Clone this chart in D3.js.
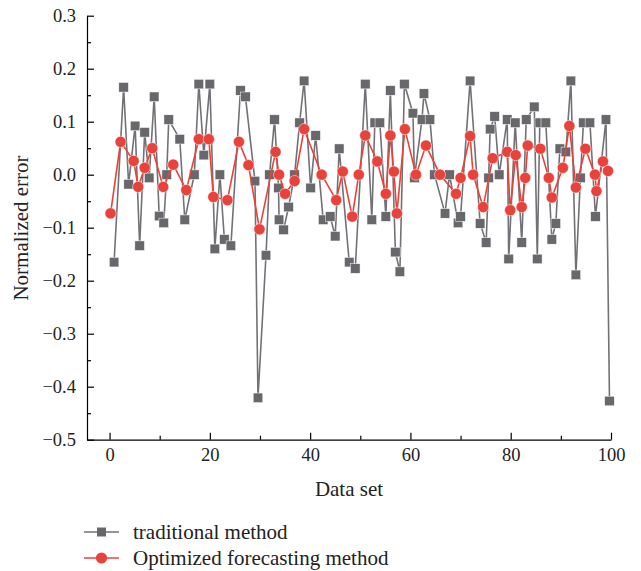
<!DOCTYPE html>
<html>
<head>
<meta charset="utf-8">
<script src="https://cdn.jsdelivr.net/npm/d3@7"></script>
<style>
  body { margin: 0; background: #fff; }
  svg { display: block; font-family: "Liberation Serif", "DejaVu Serif", serif; }
</style>
</head>
<body>
<svg id="chart" width="641" height="571"></svg>
<script>
// traditional method (x = data set index, y = normalized error)
const tradX = [0.9, 2.8, 3.8, 5.1, 6.0, 7.0, 7.9, 8.9, 9.9, 10.8, 11.4, 11.8, 14.0, 15.0, 16.9, 17.8, 18.8, 20.0, 21.0, 22.0,
  22.9, 24.2, 26.1, 27.1, 29.0, 29.6, 31.2, 31.9, 32.9, 33.7, 33.8, 34.7, 35.7, 36.9, 37.9, 38.8, 40.1, 41.1, 42.6, 44.0,
  45.0, 45.8, 47.8, 49.0, 51.0, 52.3, 52.9, 53.9, 55.1, 56.0, 57.0, 57.9, 58.8, 60.5, 60.8, 62.3, 62.7, 63.9, 64.8, 66.9,
  67.8, 69.5, 70.0, 71.9, 73.9, 75.1, 75.6, 75.9, 76.8, 77.7, 79.3, 79.6, 80.9, 82.2, 83.1, 84.7, 85.3, 85.8, 87.0, 88.2,
  89.0, 89.8, 91.0, 92.0, 93.0, 93.9, 94.5, 95.8, 96.9, 99.0, 99.7];
const tradY = [-0.165, 0.165, -0.018, 0.092, -0.134, 0.080, -0.006, 0.147, -0.078, -0.091, 0.000, 0.104, 0.067, -0.085, 0.000, 0.171, 0.037, 0.171, -0.140, 0.000,
  -0.122, -0.134, 0.159, 0.147, -0.012, -0.421, -0.152, 0.000, 0.104, -0.025, -0.085, -0.104, -0.061, 0.000, 0.098, 0.177, -0.025, 0.074, -0.085, -0.079,
  -0.116, 0.049, -0.165, -0.177, 0.171, -0.085, 0.098, 0.098, -0.079, 0.159, -0.146, -0.183, 0.171, 0.116, -0.006, 0.104, 0.153, 0.104, 0.000, -0.073,
  0.000, -0.091, -0.079, 0.177, -0.092, -0.128, -0.006, 0.086, 0.110, 0.000, 0.104, -0.159, 0.098, -0.128, 0.104, 0.128, -0.159, 0.098, 0.098, -0.122,
  -0.092, 0.049, 0.043, 0.177, -0.189, -0.006, 0.098, 0.098, -0.079, 0.104, -0.427];

// optimized forecasting method
const optX = [0.2, 2.2, 4.8, 5.7, 7.0, 8.5, 10.7, 12.7, 15.3, 17.8, 19.8, 20.7, 23.5, 25.8, 27.7, 29.9, 33.1, 33.8, 35.0, 36.9,
  38.8, 42.3, 45.2, 46.5, 48.4, 49.7, 51.0, 53.4, 55.1, 56.0, 56.7, 57.3, 58.9, 61.1, 63.1, 65.9, 69.1, 70.0, 71.9, 72.5,
  74.5, 76.4, 79.3, 79.9, 81.0, 82.2, 82.9, 83.4, 85.9, 87.6, 88.2, 90.4, 91.7, 93.0, 94.9, 96.8, 97.1, 98.4, 99.4];
const optY = [-0.073, 0.062, 0.026, -0.023, 0.013, 0.050, -0.023, 0.019, -0.029, 0.067, 0.067, -0.042, -0.048, 0.062, 0.018, -0.103, 0.043, 0.000, -0.036, -0.012,
  0.086, 0.000, -0.048, 0.006, -0.079, 0.000, 0.074, 0.025, -0.036, 0.074, 0.006, -0.073, 0.086, 0.000, 0.055, 0.000, -0.036, -0.006, 0.073, 0.000,
  -0.061, 0.031, 0.043, -0.067, 0.037, -0.061, -0.006, 0.055, 0.049, -0.006, -0.043, 0.013, 0.092, -0.024, 0.049, 0.000, -0.031, 0.025, 0.007];

const xTicks = [0, 20, 40, 60, 80, 100];
const yTicks = [0.3, 0.2, 0.1, 0.0, -0.1, -0.2, -0.3, -0.4, -0.5];
const seriesNames = ["traditional method", "Optimized forecasting method"];

const grey = "#68686c", red = "#e8423a";

const svg = d3.select("#chart");

const x = d3.scaleLinear().domain([-4.5, 100]).range([87, 611]);
const y = d3.scaleLinear().domain([-0.5, 0.3]).range([439.7, 15.7]);

// minor ticks
svg.append("g")
  .attr("transform", "translate(0,439.7)")
  .call(d3.axisBottom(x).tickValues([10, 30, 50, 70, 90]).tickSize(-4).tickSizeOuter(0).tickFormat(""))
  .call(g => g.select(".domain").remove())
  .selectAll("line").attr("stroke-width", 1.2);
svg.append("g")
  .attr("transform", "translate(87,0)")
  .call(d3.axisLeft(y).tickValues(d3.range(-0.45, 0.3, 0.1)).tickSize(-4).tickSizeOuter(0).tickFormat(""))
  .call(g => g.select(".domain").remove())
  .selectAll("line").attr("stroke-width", 1.2);

// X axis
const xAxis = svg.append("g")
  .attr("transform", "translate(0,439.7)")
  .call(d3.axisBottom(x).tickValues(xTicks).tickSize(-7).tickSizeOuter(0).tickPadding(8).tickFormat(d3.format("d")));
xAxis.select(".domain").attr("stroke-width", 1.2);
xAxis.selectAll("line").attr("stroke-width", 1.2);
xAxis.selectAll("text").attr("font-size", 18.5).attr("font-family", "Liberation Serif").attr("fill", "#222");

// Y axis
const yAxis = svg.append("g")
  .attr("transform", "translate(87,0)")
  .call(d3.axisLeft(y).tickValues(yTicks).tickSize(-7).tickSizeOuter(0).tickPadding(11).tickFormat(d3.format(".1f")));
yAxis.select(".domain").attr("stroke-width", 1.2);
yAxis.selectAll("line").attr("stroke-width", 1.2);
yAxis.selectAll("text").attr("font-size", 18.5).attr("font-family", "Liberation Serif").attr("fill", "#222");

// axis titles
svg.append("text")
  .attr("x", 349).attr("y", 496)
  .attr("text-anchor", "middle")
  .attr("font-size", 21).attr("fill", "#222")
  .text("Data set");
svg.append("text")
  .attr("transform", "translate(28,228) rotate(-90)")
  .attr("text-anchor", "middle")
  .attr("font-size", 21).attr("fill", "#222")
  .text("Normalized error");

const trad = tradX.map((d, i) => ({ x: d, y: tradY[i] }));
const opt = optX.map((d, i) => ({ x: d, y: optY[i] }));

const line = d3.line().x(d => x(d.x)).y(d => y(d.y));

// traditional method
svg.append("path")
  .datum(trad)
  .attr("d", line)
  .attr("fill", "none")
  .attr("stroke", "#727276")
  .attr("stroke-width", 1.6);
svg.selectAll(".sq")
  .data(trad)
  .enter()
  .append("rect")
  .attr("class", "sq")
  .attr("x", d => x(d.x) - 4.8)
  .attr("y", d => y(d.y) - 4.8)
  .attr("width", 9.6)
  .attr("height", 9.6)
  .attr("fill", grey)
  .attr("stroke", "#fff")
  .attr("stroke-width", 0.5);

// optimized forecasting method
svg.append("path")
  .datum(opt)
  .attr("d", line)
  .attr("fill", "none")
  .attr("stroke", red)
  .attr("stroke-width", 1.6);
svg.selectAll(".dot")
  .data(opt)
  .enter()
  .append("circle")
  .attr("class", "dot")
  .attr("cx", d => x(d.x))
  .attr("cy", d => y(d.y))
  .attr("r", 5.6)
  .attr("fill", red)
  .attr("stroke", "#fff")
  .attr("stroke-width", 0.5);

// legend
const legend = svg.append("g").attr("transform", "translate(84,532)");
seriesNames.forEach((name, i) => {
  const row = legend.append("g").attr("transform", `translate(0,${i * 26})`);
  const col = i === 0 ? "#727276" : red;
  row.append("line").attr("x1", 0).attr("x2", 35).attr("stroke", col).attr("stroke-width", 1.6);
  if (i === 0) {
    row.append("rect").attr("x", 13).attr("y", -4.5).attr("width", 9).attr("height", 9).attr("fill", grey);
  } else {
    row.append("circle").attr("cx", 17.5).attr("r", 5.6).attr("fill", red);
  }
  row.append("text")
    .attr("x", 49).attr("dy", "0.33em")
    .attr("font-size", 21).attr("fill", "#222")
    .text(name);
});
</script>
</body>
</html>
